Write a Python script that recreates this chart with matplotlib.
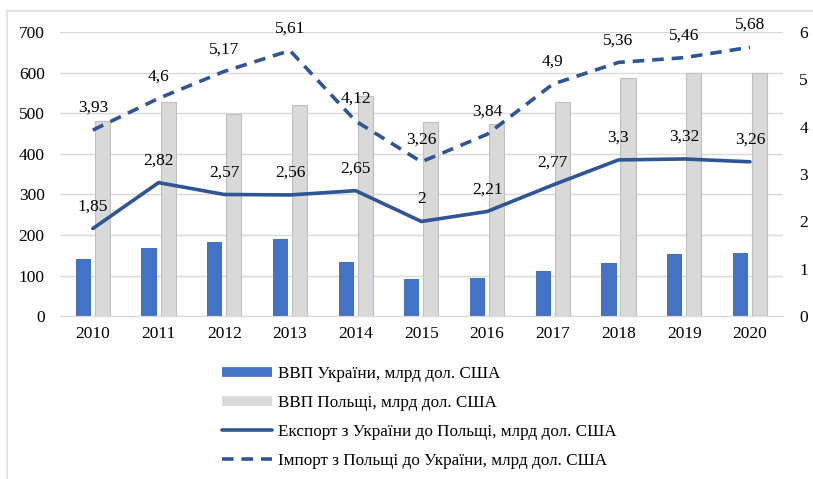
import matplotlib.pyplot as plt
import numpy as np
from matplotlib.lines import Line2D

plt.rcParams['font.family'] = ['Liberation Serif', 'DejaVu Serif']

years = ['2010', '2011', '2012', '2013', '2014', '2015',
         '2016', '2017', '2018', '2019', '2020']
gdp_ukraine = [140, 169, 182, 190, 133, 91, 94, 112, 130, 153, 156]
gdp_poland = [480, 528, 499, 521, 542, 478, 473, 527, 588, 598, 598]
export_ua_pl = [1.85, 2.82, 2.57, 2.56, 2.65, 2.00, 2.21, 2.77, 3.30, 3.32, 3.26]
import_pl_ua = [3.93, 4.60, 5.17, 5.61, 4.12, 3.26, 3.84, 4.90, 5.36, 5.46, 5.68]

labels = ['ВВП України, млрд дол. США',
          'ВВП Польщі, млрд дол. США',
          'Експорт з України до Польщі, млрд дол. США',
          'Імпорт з Польщі до України, млрд дол. США']

blue = '#4472C4'
grey = '#D9D9D9'
line_col = '#2F5597'

fig = plt.figure(figsize=(8.13, 4.79), dpi=100)
ax = fig.add_axes([0.0738, 0.340, 0.889, 0.593])
ax2 = ax.twinx()

x = np.arange(len(years))
w = 0.23
off = 0.145
ax.bar(x - off, gdp_ukraine, w, color=blue, zorder=2)
ax.bar(x + off, gdp_poland, w, color=grey, edgecolor='#BFBFBF', linewidth=0.8, zorder=2)

ax.set_ylim(0, 700)
ax.set_yticks(range(0, 701, 100))
ax.set_xlim(-0.5, len(years) - 0.5)
ax.set_xticks(x)
ax.set_xticklabels(years)
ax.grid(axis='y', color='#D9D9D9', linewidth=1, zorder=0)
ax.set_axisbelow(True)
for s in ['top', 'left', 'right']:
    ax.spines[s].set_visible(False)
ax.spines['bottom'].set_color('#D9D9D9')
ax.tick_params(axis='both', length=0, labelsize=12.5)
ax.tick_params(axis='y', pad=11)
ax.tick_params(axis='x', pad=7)

ax2.plot(x, export_ua_pl, color=line_col, lw=2.6, solid_capstyle='round', zorder=3)
ax2.plot(x, import_pl_ua, color=line_col, lw=2.6, ls=(0, (3.2, 2.2)),
         dash_capstyle='butt', zorder=3)
for xi, v in zip(x, export_ua_pl):
    ax2.annotate(f'{v:g}'.replace('.', ','), (xi, v), xytext=(0, 16),
                 textcoords='offset points', ha='center', va='center', fontsize=12.5)
for xi, v in zip(x, import_pl_ua):
    ax2.annotate(f'{v:g}'.replace('.', ','), (xi, v), xytext=(0, 16),
                 textcoords='offset points', ha='center', va='center', fontsize=12.5)
ax2.set_ylim(0, 6)
ax2.set_yticks(range(0, 7))
ax2.tick_params(axis='y', length=0, labelsize=12.5, pad=12)
for s in ax2.spines.values():
    s.set_visible(False)

handles = [
    Line2D([], [], color=blue, lw=7, solid_capstyle='butt'),
    Line2D([], [], color=grey, lw=7, solid_capstyle='butt'),
    Line2D([], [], color=line_col, lw=2.6, solid_capstyle='round'),
    Line2D([], [], color=line_col, lw=2.6, ls=(0, (3.2, 2.2))),
]
fig.legend(handles, labels, loc='upper left', bbox_to_anchor=(0.265, 0.250),
           frameon=False, fontsize=12.3, handlelength=2.9, handletextpad=0.35,
           labelspacing=0.76, borderaxespad=0)

# thin frame around the chart
fig.add_artist(Line2D([7 / 813, 7 / 813], [0, 1 - 11 / 479],
                      transform=fig.transFigure, color='#E3E3E3', lw=1.5))
fig.add_artist(Line2D([7 / 813, 1], [1 - 11 / 479, 1 - 11 / 479],
                      transform=fig.transFigure, color='#E3E3E3', lw=1.5))

fig.savefig('out.png', dpi=100)
